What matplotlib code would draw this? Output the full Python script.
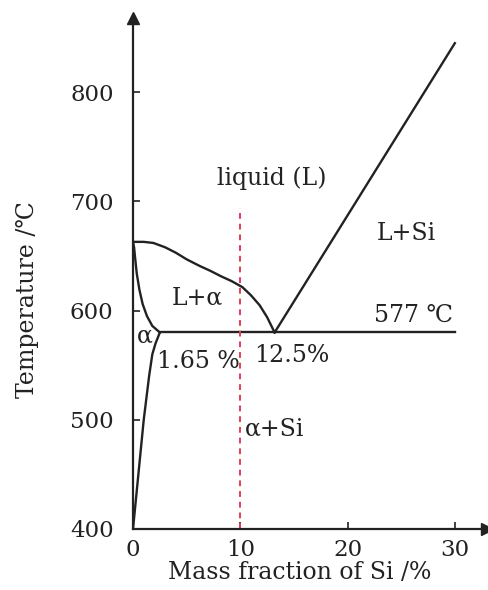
import matplotlib as mpl
import matplotlib.pyplot as plt

mpl.rcParams.update({
    "font.family": ["DejaVu Serif", "DejaVu Sans"],
    "font.size": 17,
    "axes.linewidth": 1.6,
})

# Al-Si phase diagram (x: wt% Si, y: deg C)
liq_left_x = [0, 1, 1.9, 3, 4, 5, 6.2, 7.2, 8.2, 9.2, 10.2, 11, 11.8, 12.5, 13.2]
liq_left_t = [663, 663, 662, 658, 653, 647, 641, 636.5, 631.5, 627, 621.5, 614, 605, 594, 580]
solidus_x = [0, 0.1, 0.2, 0.35, 0.6, 0.9, 1.3, 1.8, 2.5]
solidus_t = [663, 658, 648, 634, 619, 606, 595, 586, 580]
solvus_x = [2.5, 2.1, 1.8, 1.5, 1.0, 0.6, 0]
solvus_t = [580, 570, 560, 540, 500, 460, 400]
liq_right_x = [13.2, 30]
liq_right_t = [580, 845]
eutectic_x = [2.5, 30]
eutectic_t = [580, 580]
cut_x = [10, 10]
cut_t = [400, 694]

xticks = [0, 10, 20, 30]
yticks = [400, 500, 600, 700, 800]

labels = [
    ("liquid (L)", 12.95, 721),
    ("L+Si", 25.5, 671),
    ("L+\u03b1", 5.96, 612),
    ("577 \u2103", 26.1, 596),
    ("\u03b1", 1.1, 577),
    ("1.65 %", 6.05, 553),
    ("12.5%", 14.8, 559),
    ("\u03b1+Si", 13.2, 492),
]

fig = plt.figure(figsize=(4.89, 5.90), dpi=100)
ax = fig.add_axes([0.272, 0.1034, 0.724, 0.866])

lw = 1.7
ink = "#222222"
ax.plot(liq_left_x, liq_left_t, color=ink, lw=lw)
ax.plot(solidus_x, solidus_t, color=ink, lw=lw)
ax.plot(solvus_x, solvus_t, color=ink, lw=lw)
ax.plot(liq_right_x, liq_right_t, color=ink, lw=lw)
ax.plot(eutectic_x, eutectic_t, color=ink, lw=lw)
ax.plot(cut_x, cut_t, color="#e0405a", lw=1.4, ls=(0, (3, 2.5)))

for s, x, t in labels:
    ax.text(x, t, s, ha="center", va="center", color=ink)

ax.set_xlim(0, 33)
ax.set_ylim(400, 868)
ax.spines["top"].set_visible(False)
ax.spines["right"].set_visible(False)
ax.spines["left"].set_color(ink)
ax.spines["bottom"].set_color(ink)

ax.set_xticks(xticks)
ax.set_yticks(yticks)
ax.tick_params(axis="both", direction="in", length=5, width=1.2, colors=ink,
               labelsize=16.5)
ax.tick_params(axis="y", pad=14)
ax.tick_params(axis="x", pad=7)

# arrow heads on the axes
ax.plot(0, 1, marker="^", ms=9, color=ink, transform=ax.transAxes, clip_on=False)
ax.plot(1, 0, marker=">", ms=9, color=ink, transform=ax.transAxes, clip_on=False)

fig.text(28 / 489, 1 - 300 / 590, "Temperature /\u2103", rotation=90,
         ha="center", va="center", color=ink)
fig.text(300 / 489, 1 - 579 / 590, "Mass fraction of Si /%",
         ha="center", va="baseline", color=ink)

fig.savefig("out.png", dpi=100)
